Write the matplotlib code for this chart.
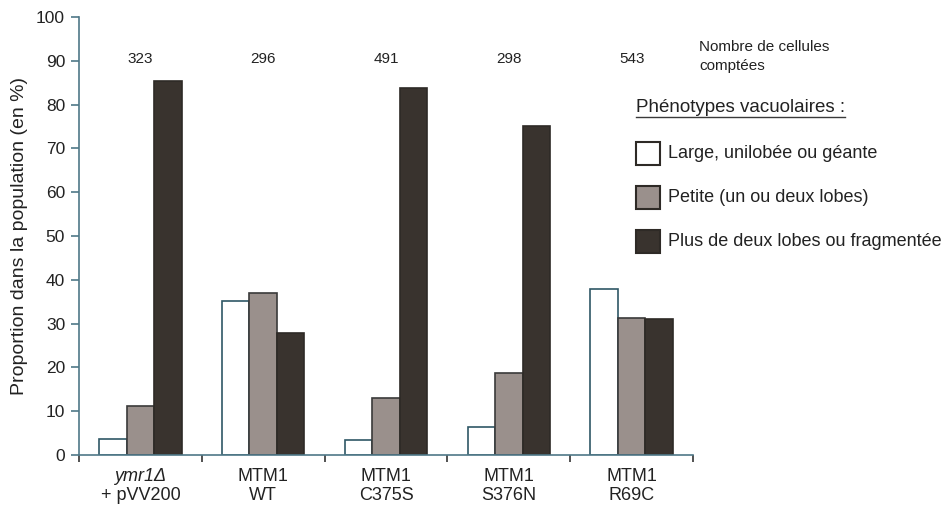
import matplotlib
matplotlib.use("Agg")
import matplotlib.pyplot as plt
import numpy as np
from matplotlib.patches import Rectangle

plt.rcParams['font.family'] = ['Liberation Sans', 'DejaVu Sans']

groups_line1 = ["ymr1Δ", "MTM1", "MTM1", "MTM1", "MTM1"]
groups_line2 = ["+ pVV200", "WT", "C375S", "S376N", "R69C"]
counts = ["323", "296", "491", "298", "543"]
large = [3.6, 35.2, 3.4, 6.4, 38.0]
petite = [11.3, 36.9, 12.9, 18.7, 31.2]
frag = [85.4, 27.9, 83.8, 75.1, 31.0]
series_labels = ["Large, unilobée ou géante", "Petite (un ou deux lobes)",
                 "Plus de deux lobes ou fragmentée"]
yticks = [0, 10, 20, 30, 40, 50, 60, 70, 80, 90, 100]

W, H = 950, 515
fig = plt.figure(figsize=(9.5, 5.15), dpi=100)
ax = fig.add_axes([79 / W, (H - 455) / H, (693 - 79) / W, 438 / H])

fill_colors = ["white", "#9a908c", "#39332e"]
edge_colors = ["#2f5866", "#3a3a3a", "#2e2a26"]
axis_col = "#4f7888"
width = 0.224
x = np.arange(len(counts))
for i, (vals, fc, ec) in enumerate(zip([large, petite, frag], fill_colors, edge_colors)):
    ax.bar(x + (i - 1) * width, vals, width=width, color=fc, edgecolor=ec, linewidth=1.2, zorder=2)

ax.set_xlim(-0.5, 4.5)
ax.set_ylim(0, 100)
for s in ["top", "right"]:
    ax.spines[s].set_visible(False)
for s in ["left", "bottom"]:
    ax.spines[s].set_color(axis_col)
    ax.spines[s].set_linewidth(1.2)
ax.set_yticks(yticks)
ax.set_yticklabels([str(v) for v in yticks], fontsize=12.5, color="#222222")
ax.tick_params(axis='y', colors=axis_col, labelcolor="#222222", length=6, width=1.2, pad=4)
ax.set_xticks(np.arange(-0.5, 4.6, 1.0))
ax.set_xticklabels([])
ax.tick_params(axis='x', colors="#333333", length=5, width=1.2, direction='out')

for xi, l1, l2 in zip(x, groups_line1, groups_line2):
    style = 'italic' if xi == 0 else 'normal'
    ax.text(xi, -4.9, l1, ha='center', va='center', fontsize=13, style=style, color="#222222")
    ax.text(xi, -9.2, l2, ha='center', va='center', fontsize=13, color="#222222")

for xi, c in zip(x, counts):
    ax.text(xi, 90.3, c, ha='center', va='center', fontsize=11, color="#222222")

ax.set_ylabel("Proportion dans la population (en %)", fontsize=14, color="#222222", labelpad=6)

# counts caption
fig.text(699 / W, 1 - 47 / H, "Nombre de cellules", fontsize=11, va='center', ha='left', color="#222222")
fig.text(699 / W, 1 - 66 / H, "comptées", fontsize=11, va='center', ha='left', color="#222222")

# legend title underlined
t = fig.text(636 / W, 1 - 107 / H, "Phénotypes vacuolaires :", fontsize=13.5, va='center', ha='left', color="#222222")
fig.canvas.draw()
bb = t.get_window_extent()
fig.add_artist(plt.Line2D([bb.x0 / W, bb.x1 / W], [(bb.y0 - 1) / H, (bb.y0 - 1) / H],
                          color="#3a3a3a", linewidth=1.0, transform=fig.transFigure))

rows_y = [153, 197, 241]
for ry, lab, fc in zip(rows_y, series_labels, fill_colors):
    fig.add_artist(Rectangle((636 / W, 1 - (ry + 11.5) / H), 24 / W, 23 / H, facecolor=fc,
                             edgecolor="#2e2a26", linewidth=1.5, transform=fig.transFigure))
    fig.text(668 / W, 1 - ry / H, lab, fontsize=13, va='center', ha='left', color="#222222")

fig.savefig("out.png", dpi=100)
